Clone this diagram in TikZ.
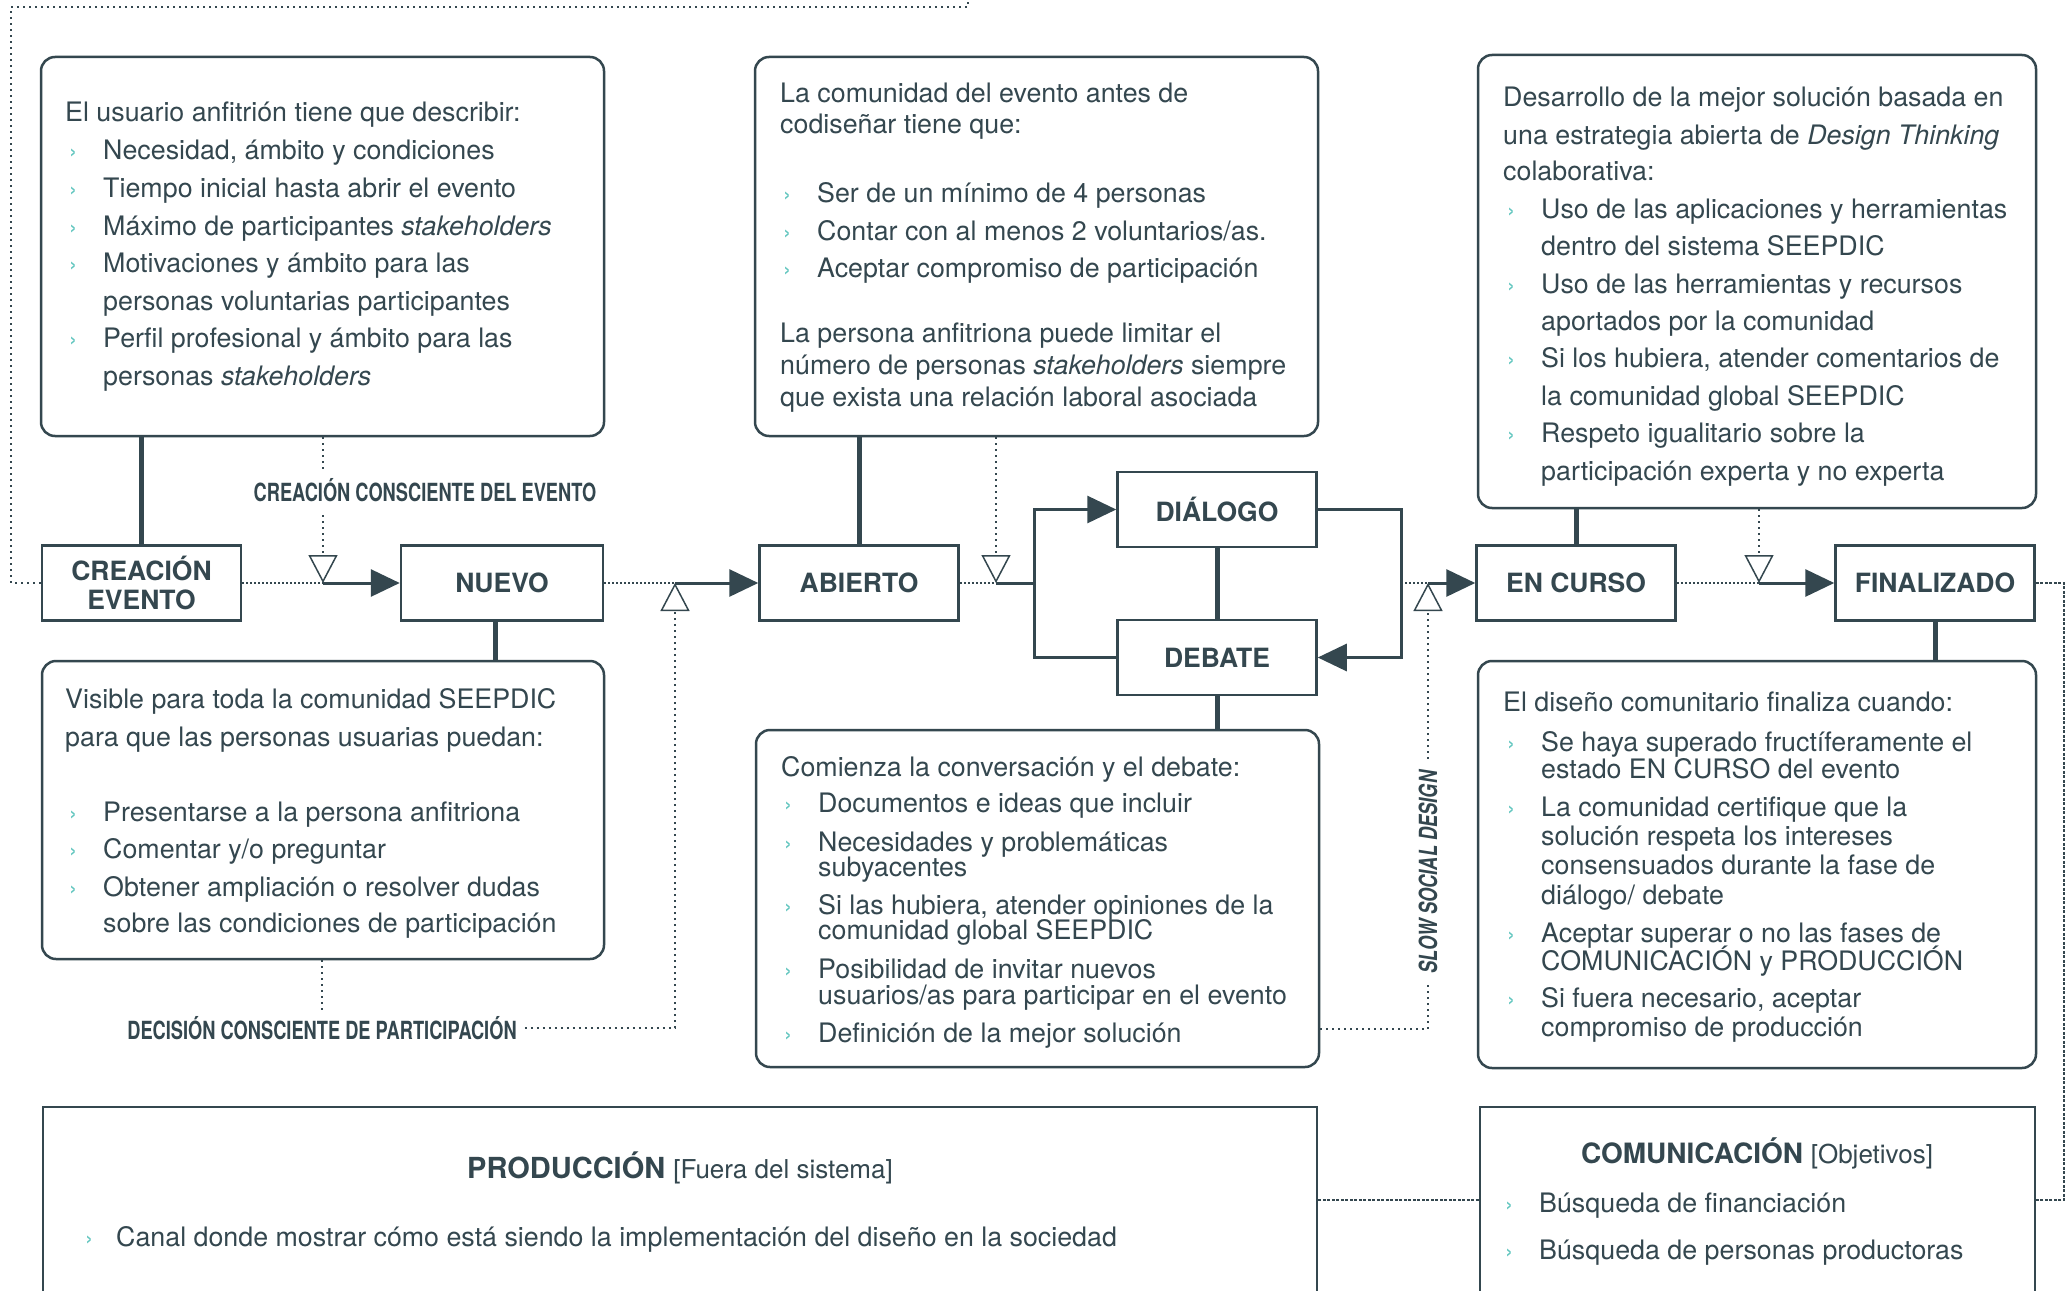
\documentclass[tikz,border=0pt]{standalone}
\usepackage{fontspec}
\setmainfont{TeX Gyre Heros}
\usetikzlibrary{arrows.meta}
\definecolor{ink}{HTML}{34474F}
\definecolor{bulteal}{HTML}{62C6BF}

\tikzset{
  every node/.style={text=ink},
  infobox/.style={draw=ink, line width=2.5pt, rounded corners=14pt, fill=white, inner sep=0pt},
  plainbox/.style={draw=ink, line width=2.5pt, fill=white, inner sep=0pt},
  stepbox/.style={draw=ink, line width=2.5pt, fill=white, minimum width=199pt, minimum height=75pt,
    inner sep=0pt, align=center, font=\fontsize{26.5}{29}\selectfont\bfseries},
  txt/.style={anchor=mid west, inner sep=0pt, yshift=-7pt, font=\fontsize{26.8}{30}\selectfont},
  bulmark/.style={anchor=mid west, inner sep=0pt, yshift=-7pt, text=bulteal, font=\fontsize{24}{30}\selectfont},
  stem/.style={draw=ink, line width=5pt},
  flow/.style={draw=ink, line width=3pt},
  flowarrow/.style={flow, -{Triangle[length=29pt,width=27pt]}},
  gapdots/.style={draw=ink, line width=2pt, dash pattern=on 2pt off 2pt},
  loopdots/.style={draw=ink, line width=2pt, dash pattern=on 2pt off 4pt},
  finedash/.style={draw=ink, line width=2pt, dash pattern=on 3pt off 1.5pt},
  opentip/.style={loopdots, -{Triangle[length=28pt,width=29pt,fill=white,line width=1.5pt]}},
  condlabel/.style={fill=white, inner xsep=4pt, inner ysep=10pt, font=\fontsize{25}{25}\selectfont\bfseries},
}

\newcommand\txtline[4]{\node[txt] (#1) at (#2,#3) {#4};}
\newcommand\bitem[4]{\node[bulmark] (#1m) at (#2,#3) {›};\node[txt] (#1) at (#2+34,#3) {#4};}

\begin{document}
\begin{tikzpicture}[x=1pt,y=-1pt]
\useasboundingbox (0,0) rectangle (2071,1290);
\clip (0,0) rectangle (2071,1290);
\fill[white] (0,0) rectangle (2071,1290);

% description boxes
\node[infobox, minimum width=563pt, minimum height=379pt] (A) at (322.5,246.5) {};
\node[infobox, minimum width=563pt, minimum height=379pt] (B) at (1036.5,246.5) {};
\node[infobox, minimum width=558pt, minimum height=453pt] (C) at (1757,281.5) {};
\node[infobox, minimum width=562pt, minimum height=298pt] (F) at (323,810) {};
\node[infobox, minimum width=563pt, minimum height=337pt] (E) at (1037.5,898.5) {};
\node[infobox, minimum width=558pt, minimum height=407pt] (D) at (1757,864.5) {};
\node[plainbox, minimum width=1274pt, minimum height=186pt] (prod) at (680,1200) {};
\node[plainbox, minimum width=555pt, minimum height=186pt] (com) at (1757.5,1200) {};

% event states
\node[stepbox] (creacion) at (141.5,583) {CREACIÓN\\EVENTO};
\node[stepbox, minimum width=202pt] (nuevo) at (502,583) {NUEVO};
\node[stepbox] (abierto) at (859,583) {ABIERTO};
\node[stepbox] (dialogo) at (1217,509.5) {DIÁLOGO};
\node[stepbox] (debate) at (1217,657.5) {DEBATE};
\node[stepbox] (encurso) at (1576,583) {EN CURSO};
\node[stepbox] (finalizado) at (1935,583) {FINALIZADO};

% junction points on the main line
\coordinate (t1) at (323,583);
\coordinate (t2) at (675,583);
\coordinate (t3) at (996,583);
\coordinate (fk) at (1034,583);
\coordinate (rj) at (1401,583);
\coordinate (t4) at (1428,583);
\coordinate (t5) at (1759,583);
\coordinate (rl) at (2064,583);
\coordinate (ll) at (11,7);
\coordinate (tp) at (968,0);
\coordinate (ssd) at (1428,1029);
\coordinate (ns) at (495,621);

% stems between boxes and states
\draw[stem] (A.south -| creacion.north) -- (creacion.north);
\draw[stem] (ns) -- (ns |- F.north);
\draw[stem] (B.south -| abierto.north) -- (abierto.north);
\draw[stem] (dialogo.south) -- (debate.north);
\draw[stem] (debate.south) -- (debate.south |- E.north);
\draw[stem] (C.south -| encurso.north) -- (encurso.north);
\draw[stem] (finalizado.south) -- (finalizado.south |- D.north);

% main flow
\draw[gapdots] (creacion.east) -- (t1);
\draw[flowarrow] (t1) -- (nuevo.west);
\draw[gapdots] (nuevo.east) -- (t2);
\draw[flowarrow] (t2) -- (abierto.west);
\draw[gapdots] (abierto.east) -- (t3);
\draw[flow] (t3) -- (fk);
\draw[flowarrow] (debate.west) -| (fk) |- (dialogo.west);
\draw[flowarrow] (dialogo.east) -| (rj) |- (debate.east);
\draw[gapdots] (rj) -- (t4);
\draw[flowarrow] (t4) -- (encurso.west);
\draw[gapdots] (encurso.east) -- (t5);
\draw[flowarrow] (t5) -- (finalizado.west);
\draw[finedash] (finalizado.east) -- (rl) |- (com.east);
\draw[finedash] (prod.east) -- (com.west);
\draw[loopdots] (creacion.west) -| (ll) -| (tp);

% conscious-decision connectors
\draw[opentip] (A.south -| t1) -- (t1);
\draw[opentip] (B.south -| t3) -- (t3);
\draw[opentip] (C.south -| t5) -- (t5);
\draw[opentip] (E.east |- ssd) -| (t4);

\node[condlabel] (ccl) at (425,490.5) {\scalebox{0.73}[1]{CREACIÓN CONSCIENTE DEL EVENTO}};
\node[condlabel, inner xsep=8pt, inner ysep=3pt] (dcp) at (322,1028) {\scalebox{0.73}[1]{DECISIÓN CONSCIENTE DE PARTICIPACIÓN}};
\draw[loopdots] (F.south -| dcp) -- (dcp.north);
\draw[opentip] (dcp.east) -| (t2);
\node[condlabel, rotate=90, inner xsep=10pt, inner ysep=4pt] (ssl) at (1428,872) {\scalebox{0.73}[1]{\itshape SLOW SOCIAL DESIGN}};

% box A
\txtline{a0}{65}{112}{El usuario anfitrión tiene que describir:}
\bitem{a1}{69}{150}{Necesidad, ámbito y condiciones}
\bitem{a2}{69}{188}{Tiempo inicial hasta abrir el evento}
\bitem{a3}{69}{226}{Máximo de participantes \textit{stakeholders}}
\bitem{a4}{69}{263}{Motivaciones y ámbito para las}
\txtline{a5}{103}{301}{personas voluntarias participantes}
\bitem{a6}{69}{338}{Perfil profesional y ámbito para las}
\txtline{a7}{103}{376}{personas \textit{stakeholders}}

% box B
\txtline{b0}{780}{93}{La comunidad del evento antes de}
\txtline{b1}{780}{124}{codiseñar tiene que:}
\bitem{b2}{783}{193}{Ser de un mínimo de 4 personas}
\bitem{b3}{783}{231}{Contar con al menos 2 voluntarios/as.}
\bitem{b4}{783}{268}{Aceptar compromiso de participación}
\txtline{b5}{780}{333}{La persona anfitriona puede limitar el}
\txtline{b6}{780}{365}{número de personas \textit{stakeholders} siempre}
\txtline{b7}{780}{397}{que exista una relación laboral asociada}

% box C
\txtline{c0}{1503}{97}{Desarrollo de la mejor solución basada en}
\txtline{c1}{1503}{135}{una estrategia abierta de \textit{Design Thinking}}
\txtline{c2}{1503}{171}{colaborativa:}
\bitem{c3}{1507}{209}{Uso de las aplicaciones y herramientas}
\txtline{c4}{1541}{246}{dentro del sistema SEEPDIC}
\bitem{c5}{1507}{284}{Uso de las herramientas y recursos}
\txtline{c6}{1541}{321}{aportados por la comunidad}
\bitem{c7}{1507}{358}{Si los hubiera, atender comentarios de}
\txtline{c8}{1541}{396}{la comunidad global SEEPDIC}
\bitem{c9}{1507}{433}{Respeto igualitario sobre la}
\txtline{c10}{1541}{471}{participación experta y no experta}

% box F
\txtline{f0}{65}{699}{Visible para toda la comunidad SEEPDIC}
\txtline{f1}{65}{737}{para que las personas usuarias puedan:}
\bitem{f2}{69}{812}{Presentarse a la persona anfitriona}
\bitem{f3}{69}{849}{Comentar y/o preguntar}
\bitem{f4}{69}{887}{Obtener ampliación o resolver dudas}
\txtline{f5}{103}{923}{sobre las condiciones de participación}

% box E
\txtline{e0}{781}{767}{Comienza la conversación y el debate:}
\bitem{e1}{784}{803}{Documentos e ideas que incluir}
\bitem{e2}{784}{842}{Necesidades y problemáticas}
\txtline{e3}{818}{867}{subyacentes}
\bitem{e4}{784}{905}{Si las hubiera, atender opiniones de la}
\txtline{e5}{818}{930}{comunidad global SEEPDIC}
\bitem{e6}{784}{969}{Posibilidad de invitar nuevos}
\txtline{e7}{818}{995}{usuarios/as para participar en el evento}
\bitem{e8}{784}{1033}{Definición de la mejor solución}

% box D
\txtline{d0}{1503}{702}{El diseño comunitario finaliza cuando:}
\bitem{d1}{1507}{742}{Se haya superado fructíferamente el}
\txtline{d2}{1541}{769}{estado EN CURSO del evento}
\bitem{d3}{1507}{807}{La comunidad certifique que la}
\txtline{d4}{1541}{836}{solución respeta los intereses}
\txtline{d5}{1541}{865}{consensuados durante la fase de}
\txtline{d6}{1541}{895}{diálogo/ debate}
\bitem{d7}{1507}{933}{Aceptar superar o no las fases de}
\txtline{d8}{1541}{961}{COMUNICACIÓN y PRODUCCIÓN}
\bitem{d9}{1507}{998}{Si fuera necesario, aceptar}
\txtline{d10}{1541}{1027}{compromiso de producción}

% production
\node[inner sep=0pt] (p0) at (680,1168) {\fontsize{29}{32}\selectfont\bfseries PRODUCCIÓN \fontsize{26}{30}\selectfont\mdseries [Fuera del sistema]};
\node[bulmark] (p1m) at (85,1237) {›};
\node[txt] (p1) at (116,1237) {Canal donde mostrar cómo está siendo la implementación del diseño en la sociedad};

% communication
\node[inner sep=0pt] (m0) at (1757,1153) {\fontsize{28}{32}\selectfont\bfseries COMUNICACIÓN \fontsize{26}{30}\selectfont\mdseries [Objetivos]};
\bitem{m1}{1505}{1203}{Búsqueda de financiación}
\bitem{m2}{1505}{1250}{Búsqueda de personas productoras}
\end{tikzpicture}
\end{document}
